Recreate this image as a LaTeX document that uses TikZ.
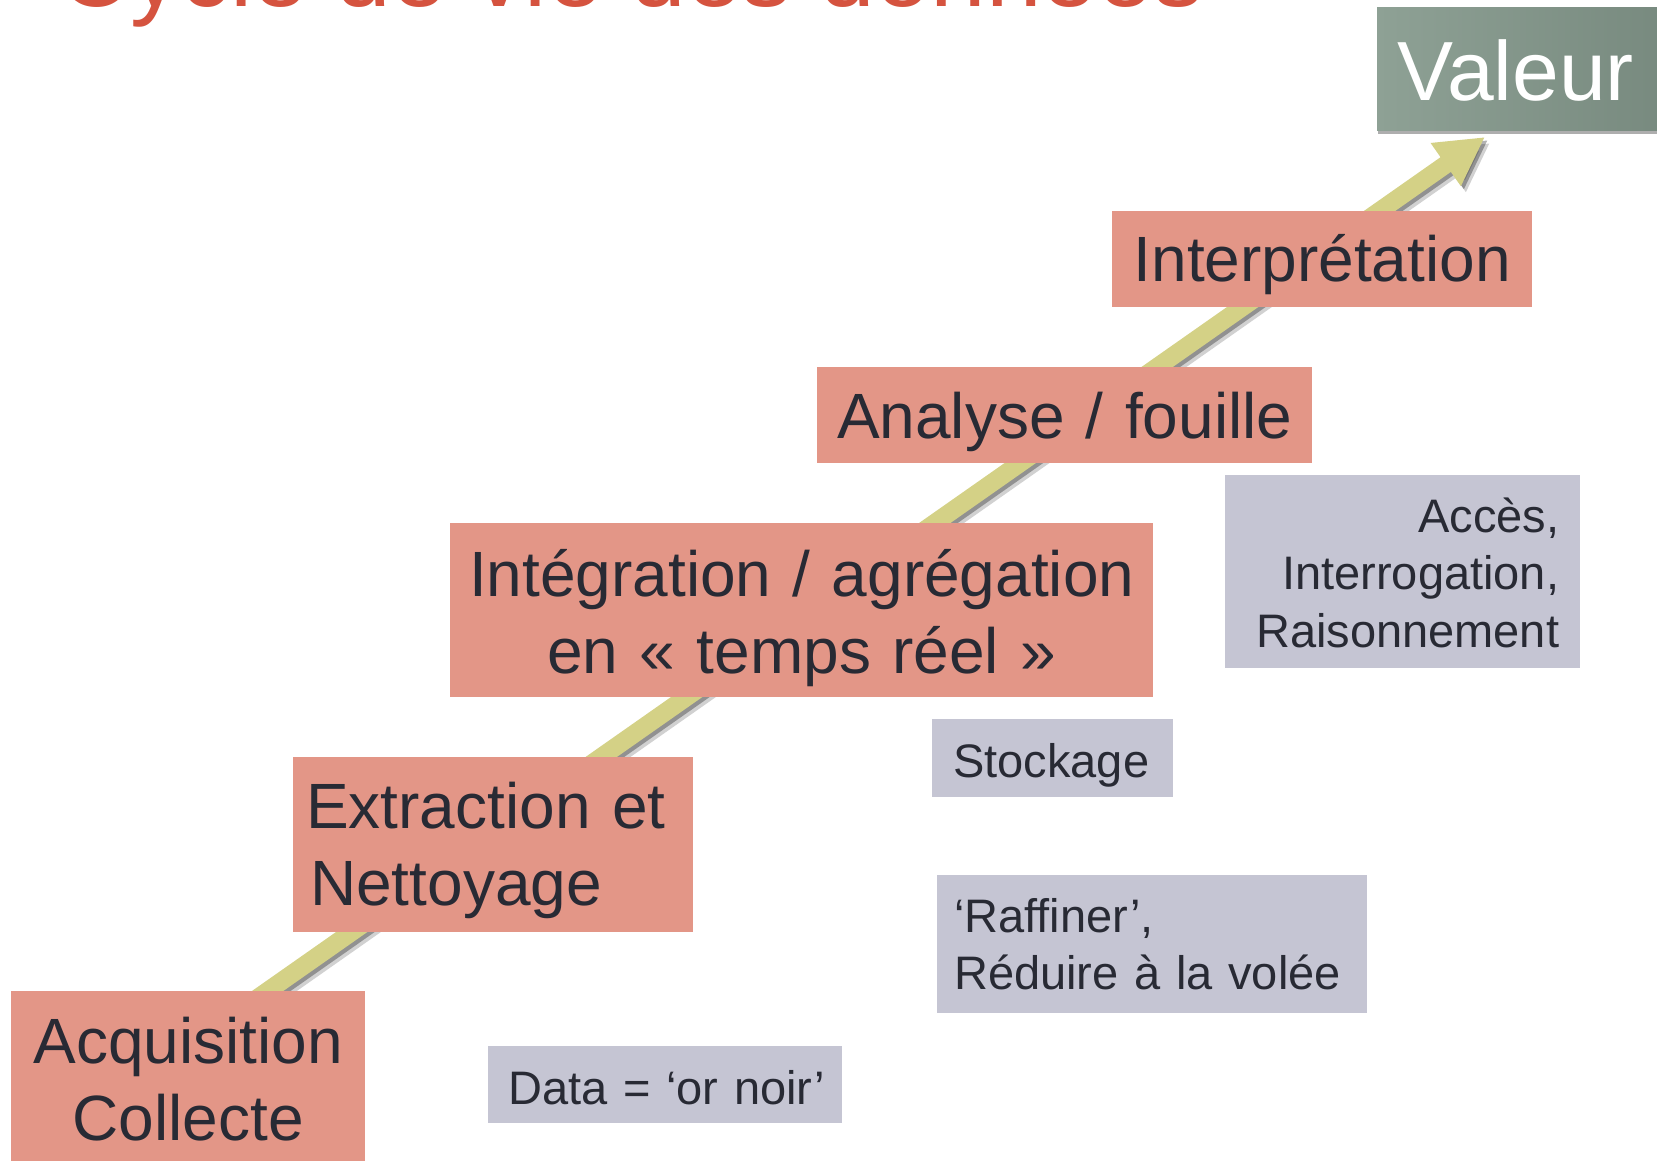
\documentclass[tikz,border=0pt]{standalone}
\usepackage{fontspec}
\setmainfont{Liberation Sans}
\usetikzlibrary{arrows.meta,shadows}
\definecolor{salmon}{RGB}{227,150,135}
\definecolor{notegrey}{RGB}{197,197,211}
\definecolor{ink}{RGB}{40,42,52}
\definecolor{titlered}{RGB}{213,83,63}
\definecolor{arrowgreen}{RGB}{212,209,134}
\definecolor{valL}{RGB}{142,161,149}
\definecolor{valR}{RGB}{117,135,124}
\newcommand\padtop[1]{\rule{0pt}{#1pt}}
\newcommand\padbot[1]{\rule[-#1pt]{0pt}{0pt}}
\tikzset{
  stepbox/.style={fill=salmon, text=ink, inner ysep=0pt, anchor=north west,
    font=\fontsize{64}{77}\selectfont},
  notebox/.style={fill=notegrey, text=ink, inner ysep=0pt, anchor=north west,
    font=\fontsize{47}{57.5}\selectfont},
  arrowline/.style={line width=18pt, -{Triangle[width=49pt,length=48pt]}},
  valbox/.style={left color=valL, right color=valR, text=white, inner ysep=0pt,
    anchor=north west, font=\fontsize{84}{100}\selectfont,
    drop shadow={shadow xshift=1pt, shadow yshift=-4pt, opacity=0.45, fill=black!70}},
  titletext/.style={text=titlered, font=\fontsize{100}{120}\selectfont, inner sep=0pt}
}
\begin{document}
\begin{tikzpicture}[x=1pt,y=-1pt]
\useasboundingbox (0,0) rectangle (1657,1160);
\clip (0,0) rectangle (1657,1160);
\fill[white] (0,0) rectangle (1657,1160);

% title (cut off at the top, as in the reference)
\node[titletext, anchor=base west] (title) at (58,6) {Cycle de vie des données};

% arrow
\coordinate (arrS) at (212,1030);
\coordinate (arrE) at (1485,137);
\draw[arrowline, draw=black, fill=black, opacity=0.18, transform canvas={shift={(5,6)}}] (arrS) -- (arrE);
\draw[arrowline, draw=black, fill=black, opacity=0.30, transform canvas={shift={(3,3)}}] (arrS) -- (arrE);
\draw[arrowline, draw=arrowgreen, fill=arrowgreen] (arrS) -- (arrE);

% step boxes
\node[stepbox, text width=334pt, inner xsep=10pt, align=center] (acq) at (11,991)
  {\padtop{72}Acquisition\\Collecte\padbot{40}};
\node[stepbox, text width=374pt, inner xsep=13pt, align=left] (ext) at (293,757)
  {\padtop{71}Extraction et\\\hspace*{4pt}Nettoyage\padbot{27}};
\node[stepbox, text width=683pt, inner xsep=10pt, align=center] (integ) at (450,523)
  {\padtop{73}Intégration / agrégation\\en « temps réel »\padbot{24}};
\node[stepbox, text width=475pt, inner xsep=10pt, align=center] (ana) at (817,367)
  {\padtop{71}Analyse / fouille\padbot{25}};
\node[stepbox, text width=400pt, inner xsep=10pt, align=center] (interp) at (1112,211)
  {\padtop{70}Interprétation\padbot{26}};

% note boxes
\node[notebox, text width=313pt, inner xsep=21pt, align=right] (acces) at (1225,475)
  {\padtop{57}Accès,\\Interrogation,\\Raisonnement\padbot{21}};
\node[notebox, text width=199pt, inner xsep=21pt, align=left] (stock) at (932,719)
  {\padtop{58}\mbox{Stockage}\padbot{20}};
\node[notebox, text width=396pt, inner xsep=17pt, align=left] (raff) at (937,875)
  {\padtop{57}‘Raffiner’,\\\mbox{Réduire à la volée}\padbot{23}};
\node[notebox, text width=314pt, inner xsep=20pt, align=left] (data) at (488,1046)
  {\padtop{58}\mbox{Data = ‘or noir’}\padbot{19}};

% value box
\node[valbox, text width=283pt, inner xsep=20pt, align=left] (val) at (1377,7)
  {\padtop{93}Valeur\padbot{30}};
\end{tikzpicture}
\end{document}
